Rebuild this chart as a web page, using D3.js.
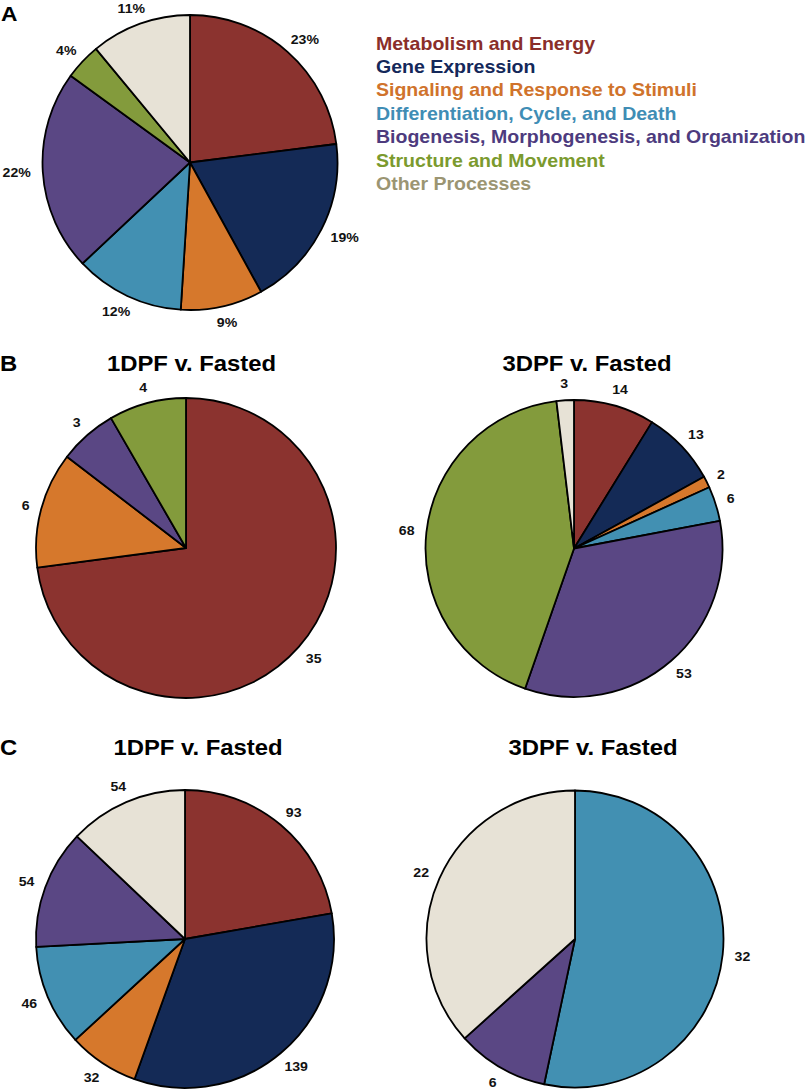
<!DOCTYPE html>
<html><head><meta charset="utf-8">
<script src="https://cdn.jsdelivr.net/npm/d3@7"></script>
<style>html,body{margin:0;padding:0;background:#fff;}svg{display:block;}</style>
</head><body>
<svg id="chart" width="810" height="1091"></svg>
<script>
const categories = ["Metabolism and Energy","Gene Expression","Signaling and Response to Stimuli","Differentiation, Cycle, and Death","Biogenesis, Morphogenesis, and Organization","Structure and Movement","Other Processes"];
const fillColors = ["#8B332F","#142A56","#D6782C","#4290B2","#5A4784","#839B3C","#E7E2D6"];
const legendColors = ["#8A2E2A","#14285A","#D0732C","#3F8DB5","#4D3B7E","#7B9A2E","#9B9572"];
const percentA = [23,19,9,12,22,4,11];
const b1DPF = [35,0,6,0,3,4,0];
const b3DPF = [14,13,2,6,53,68,3];
const c1DPF = [93,139,32,46,54,0,54];
const c3DPF = [0,0,0,32,6,0,22];
const titles = ["1DPF v. Fasted","3DPF v. Fasted"];
const panelLetters = ["A","B","C"];

const svg = d3.select("#chart");
const FONT = "'Liberation Sans', Arial, Helvetica, sans-serif";
const SX = 1.085;
const LABEL_SIZE = 13;

const color = d3.scaleOrdinal().domain(categories).range(fillColors);
const legendColor = d3.scaleOrdinal().domain(categories).range(legendColors);

function drawPie(values, cx, cy, r, gap, suffix) {
  const data = categories.map((c, i) => ({cat: c, value: values[i]})).filter(d => d.value > 0);
  const pie = d3.pie().sort(null).value(d => d.value);
  const arcs = pie(data);
  const arc = d3.arc().innerRadius(0).outerRadius(r);
  const labelArc = d3.arc().innerRadius(r + gap).outerRadius(r + gap);
  const g = svg.append("g").attr("transform", `translate(${cx},${cy})`);
  g.selectAll("path").data(arcs).enter().append("path")
    .attr("d", arc)
    .attr("fill", d => color(d.data.cat))
    .attr("stroke", "#000")
    .attr("stroke-width", 1.8)
    .attr("stroke-linejoin", "round");
  g.selectAll("text").data(arcs).enter().append("text")
    .attr("text-anchor", "middle")
    .attr("dy", "0.36em")
    .attr("font-family", FONT)
    .attr("font-weight", "bold")
    .attr("font-size", LABEL_SIZE)
    .attr("fill", "#111")
    .text(d => d.data.value + suffix)
    .attr("transform", function(d) {
      const [x, y] = labelArc.centroid(d);
      const a = (d.startAngle + d.endAngle) / 2;
      const hw = this.getComputedTextLength() * SX / 2;
      const hh = LABEL_SIZE * 0.36;
      const lx = x + hw * Math.sin(a);
      const ly = y - hh * Math.cos(a);
      return `translate(${lx},${ly}) scale(${SX},1)`;
    });
}

function addText(txt, x, y, size, anchor, fill) {
  svg.append("text")
    .attr("transform", `translate(${x},${y}) scale(${SX},1)`)
    .attr("text-anchor", anchor)
    .attr("font-family", FONT)
    .attr("font-weight", "bold")
    .attr("font-size", size)
    .attr("fill", fill || "#000")
    .text(txt);
}

// Panel A
drawPie(percentA, 190, 162.5, 147.5, 12, "%");
// Legend
const legendY = d3.scaleLinear().domain([0, categories.length - 1]).range([49.5, 190]);
categories.forEach((c, i) => addText(c, 376, legendY(i), 18, "start", legendColor(c)));

// Panel B
drawPie(b1DPF, 186, 548, 150, 12, "");
drawPie(b3DPF, 574, 548.5, 148.5, 12, "");
addText(titles[0], 191.5, 370.5, 22, "middle");
addText(titles[1], 587, 370.5, 22, "middle");

// Panel C
drawPie(c1DPF, 185, 939, 149, 12, "");
drawPie(c3DPF, 575, 939, 148.5, 12, "");
addText(titles[0], 198, 755, 22, "middle");
addText(titles[1], 593, 755, 22, "middle");

// Panel letters
addText(panelLetters[0], 1, 20.5, 21, "start");
addText(panelLetters[1], 0, 370.5, 22, "start");
addText(panelLetters[2], 0, 755, 22, "start");
</script>
</body></html>
